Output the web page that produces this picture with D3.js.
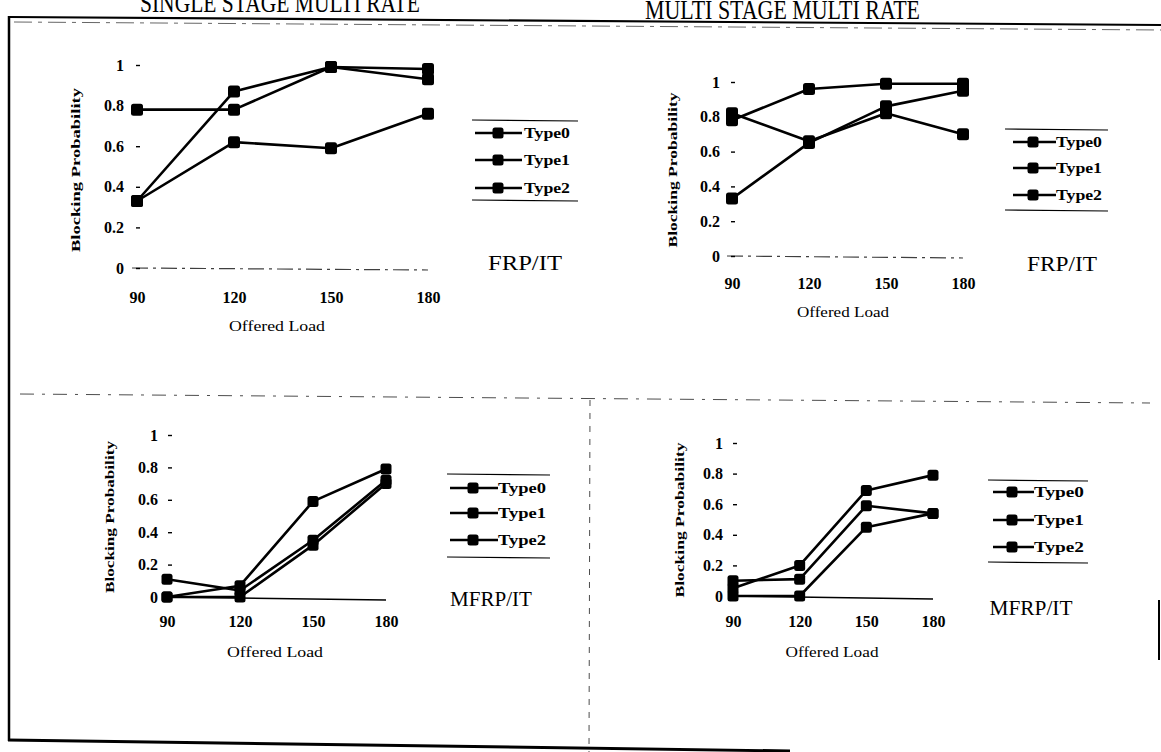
<!DOCTYPE html>
<html>
<head>
<meta charset="utf-8">
<script src="https://cdn.jsdelivr.net/npm/d3@7/dist/d3.min.js"></script>
<style>
  html, body { margin: 0; padding: 0; background: #fff; }
  svg { display: block; }
  text { font-family: "Liberation Serif", "DejaVu Serif", serif; fill: #000; }
</style>
</head>
<body>
<svg id="page" width="1161" height="752"></svg>
<script>
// Offered load (x categories) and tick labels
const loads = [90, 120, 150, 180];
const probTicks = [0, 0.2, 0.4, 0.6, 0.8, 1];
const probTickLabels = ["0", "0.2", "0.4", "0.6", "0.8", "1"];
const seriesNames = ["Type0", "Type1", "Type2"];

// Single stage multi rate, FRP/IT
const ssFrpType0 = [0.78, 0.78, 0.99, 0.93];
const ssFrpType1 = [0.33, 0.87, 0.99, 0.98];
const ssFrpType2 = [0.33, 0.62, 0.59, 0.76];

// Multi stage multi rate, FRP/IT
const msFrpType0 = [0.78, 0.96, 0.99, 0.99];
const msFrpType1 = [0.82, 0.66, 0.82, 0.70];
const msFrpType2 = [0.33, 0.65, 0.86, 0.95];

// Single stage multi rate, MFRP/IT
const ssMfrpType0 = [0.11, 0.04, 0.35, 0.72];
const ssMfrpType1 = [0.00, 0.07, 0.59, 0.79];
const ssMfrpType2 = [0.00, 0.00, 0.32, 0.70];

// Multi stage multi rate, MFRP/IT
const msMfrpType0 = [0.05, 0.20, 0.69, 0.79];
const msMfrpType1 = [0.10, 0.11, 0.59, 0.54];
const msMfrpType2 = [0.00, 0.00, 0.45, 0.54];

const svg = d3.select("#page");

// ---- page frame and separators ----
const frame = svg.append("g").attr("stroke", "#000").attr("fill", "none");
frame.append("line").attr("x1", 10).attr("y1", 17).attr("x2", 1161).attr("y2", 25).attr("stroke-width", 2.2);
frame.append("line").attr("x1", 14).attr("y1", 22).attr("x2", 1161).attr("y2", 30)
  .attr("stroke-width", 1).attr("stroke-dasharray", "18 6 4 6").attr("opacity", 0.6);
frame.append("line").attr("x1", 9).attr("y1", 16).attr("x2", 9).attr("y2", 741).attr("stroke-width", 2.5);
frame.append("line").attr("x1", 8).attr("y1", 740).attr("x2", 790).attr("y2", 751).attr("stroke-width", 3);
frame.append("line").attr("x1", 1159).attr("y1", 600).attr("x2", 1159).attr("y2", 660).attr("stroke-width", 2);
frame.append("line").attr("x1", 20).attr("y1", 394).attr("x2", 1150).attr("y2", 403)
  .attr("stroke-width", 1).attr("stroke-dasharray", "14 8 3 8").attr("opacity", 0.7);
frame.append("line").attr("x1", 590).attr("y1", 400).attr("x2", 589).attr("y2", 752)
  .attr("stroke-width", 1).attr("stroke-dasharray", "6 7").attr("opacity", 0.7);

// ---- column titles (partly cut by the top edge) ----
svg.append("text").attr("x", 140).attr("y", 12).attr("font-size", 27)
  .attr("textLength", 280).attr("lengthAdjust", "spacingAndGlyphs")
  .text("SINGLE STAGE MULTI RATE");
svg.append("text").attr("x", 645).attr("y", 19).attr("font-size", 27)
  .attr("textLength", 275).attr("lengthAdjust", "spacingAndGlyphs")
  .text("MULTI STAGE MULTI RATE");

// ---- one small line chart ----
function drawPanel(p) {
  const g = svg.append("g");
  const x = d3.scalePoint().domain(loads).range(p.xRange);
  const y = d3.scaleLinear().domain([0, 1]).range(p.yRange);
  const y0 = y(0);
  const xStart = x(loads[0]), xEnd = x(loads[loads.length - 1]);

  // baseline at zero
  g.append("line")
    .attr("x1", xStart - 5).attr("x2", xEnd).attr("y1", y0).attr("y2", y0 + p.baseSkew)
    .attr("stroke", "#000").attr("stroke-width", p.dashedBase ? 1.2 : 1.3)
    .attr("stroke-dasharray", p.dashedBase ? "16 5 3 5" : null)
    .attr("opacity", p.dashedBase ? 0.75 : 1);

  // y axis: short tick dashes and labels, no spine
  const yAxis = d3.axisLeft(y).tickValues(probTicks)
    .tickFormat((d, i) => probTickLabels[i]).tickSize(4).tickPadding(p.yPad);
  const ya = g.append("g").attr("transform", `translate(${xStart + p.tickOff},0)`).call(yAxis);
  ya.select(".domain").remove();
  ya.selectAll(".tick line").attr("stroke", "#000").attr("stroke-width", 1.4);
  ya.selectAll(".tick text")
    .attr("font-family", "Liberation Serif").attr("font-weight", "bold")
    .attr("font-size", p.tickFont).attr("fill", "#000");

  // x axis labels
  const xAxis = d3.axisBottom(x).tickSize(0).tickPadding(p.xPad);
  const xa = g.append("g").attr("transform", `translate(0,${y0})`).call(xAxis);
  xa.select(".domain").remove();
  xa.selectAll(".tick text")
    .attr("font-family", "Liberation Serif").attr("font-weight", "bold")
    .attr("font-size", p.tickFont).attr("fill", "#000");

  // axis titles
  g.append("text").attr("x", p.xTitle[0]).attr("y", p.xTitle[1])
    .attr("text-anchor", "middle").attr("font-size", 15)
    .attr("textLength", p.xTitleLen).attr("lengthAdjust", "spacingAndGlyphs")
    .text("Offered Load");
  g.append("text")
    .attr("transform", `translate(${p.yTitle[0]},${p.yTitle[1]}) rotate(-90)`)
    .attr("text-anchor", "middle").attr("font-size", 13).attr("font-weight", "bold")
    .attr("textLength", p.yTitleLen).attr("lengthAdjust", "spacingAndGlyphs")
    .text("Blocking Probability");

  // series lines and square markers
  const line = d3.line().x((d, i) => x(loads[i])).y(d => y(d));
  p.series.forEach(vals => {
    g.append("path").attr("d", line(vals)).attr("fill", "none")
      .attr("stroke", "#000").attr("stroke-width", 2.6).attr("stroke-linejoin", "round");
  });
  p.series.forEach(vals => {
    g.selectAll(null).data(vals).enter().append("rect")
      .attr("x", (d, i) => x(loads[i]) - p.mark / 2)
      .attr("y", d => y(d) - p.mark / 2)
      .attr("width", p.mark).attr("height", p.mark)
      .attr("rx", 2.5).attr("fill", "#000");
  });

  // legend between two rules
  const L = p.legend;
  const lg = g.append("g");
  [L.top, L.bottom].forEach(ry => {
    lg.append("line").attr("x1", L.x0).attr("x2", L.x1).attr("y1", ry).attr("y2", ry + 1)
      .attr("stroke", "#000").attr("stroke-width", 1.2);
  });
  seriesNames.forEach((name, i) => {
    const ry = L.rows[i];
    lg.append("line").attr("x1", L.lineX[0]).attr("x2", L.lineX[1]).attr("y1", ry).attr("y2", ry)
      .attr("stroke", "#000").attr("stroke-width", 2.4);
    lg.append("rect").attr("x", L.markX - 5.5).attr("y", ry - 5.5)
      .attr("width", 11).attr("height", 11).attr("rx", 2.5).attr("fill", "#000");
    lg.append("text").attr("x", L.textX).attr("y", ry).attr("dy", "0.35em")
      .attr("font-size", L.font).attr("font-weight", "bold")
      .attr("textLength", L.textLen).attr("lengthAdjust", "spacingAndGlyphs")
      .text(name);
  });

  // scheme label
  g.append("text").attr("x", p.scheme[0]).attr("y", p.scheme[1]).attr("dy", "0.35em")
    .attr("text-anchor", "middle").attr("font-size", 22)
    .attr("textLength", p.schemeLen).attr("lengthAdjust", "spacingAndGlyphs")
    .text(p.schemeName);
}

drawPanel({
  series: [ssFrpType0, ssFrpType1, ssFrpType2],
  xRange: [137, 428], yRange: [268, 65], baseSkew: 2, dashedBase: true,
  tickOff: 3, yPad: 12, xPad: 24, tickFont: 16, mark: 12,
  xTitle: [277, 331], xTitleLen: 96, yTitle: [80, 170], yTitleLen: 164,
  legend: { x0: 472, x1: 578, top: 120, bottom: 200, rows: [133, 160, 188],
            lineX: [475, 522], markX: 498, textX: 524, textLen: 46, font: 14 },
  scheme: [525, 262], schemeLen: 74, schemeName: "FRP/IT"
});

drawPanel({
  series: [msFrpType0, msFrpType1, msFrpType2],
  xRange: [732, 963], yRange: [256, 82], baseSkew: 2, dashedBase: true,
  tickOff: 3, yPad: 11, xPad: 22, tickFont: 16, mark: 12,
  xTitle: [843, 317], xTitleLen: 92, yTitle: [677, 170], yTitleLen: 155,
  legend: { x0: 1005, x1: 1108, top: 129, bottom: 210, rows: [142, 168, 195],
            lineX: [1013, 1056], markX: 1033, textX: 1056, textLen: 46, font: 15 },
  scheme: [1062, 263], schemeLen: 70, schemeName: "FRP/IT"
});

drawPanel({
  series: [ssMfrpType0, ssMfrpType1, ssMfrpType2],
  xRange: [167, 386], yRange: [597, 435], baseSkew: 3, dashedBase: false,
  tickOff: 5, yPad: 10, xPad: 19, tickFont: 16, mark: 11,
  xTitle: [275, 657], xTitleLen: 96, yTitle: [114, 517], yTitleLen: 152,
  legend: { x0: 447, x1: 550, top: 474, bottom: 557, rows: [488, 513, 540],
            lineX: [450, 498], markX: 473, textX: 498, textLen: 48, font: 15 },
  scheme: [491, 598], schemeLen: 82, schemeName: "MFRP/IT"
});

drawPanel({
  series: [msMfrpType0, msMfrpType1, msMfrpType2],
  xRange: [733, 933], yRange: [596, 443], baseSkew: 3, dashedBase: false,
  tickOff: 4, yPad: 10, xPad: 20, tickFont: 16, mark: 11,
  xTitle: [832, 657], xTitleLen: 93, yTitle: [684, 520], yTitleLen: 155,
  legend: { x0: 988, x1: 1088, top: 480, bottom: 562, rows: [492, 520, 547],
            lineX: [993, 1034], markX: 1012, textX: 1034, textLen: 50, font: 15 },
  scheme: [1031, 607], schemeLen: 83, schemeName: "MFRP/IT"
});
</script>
</body>
</html>
